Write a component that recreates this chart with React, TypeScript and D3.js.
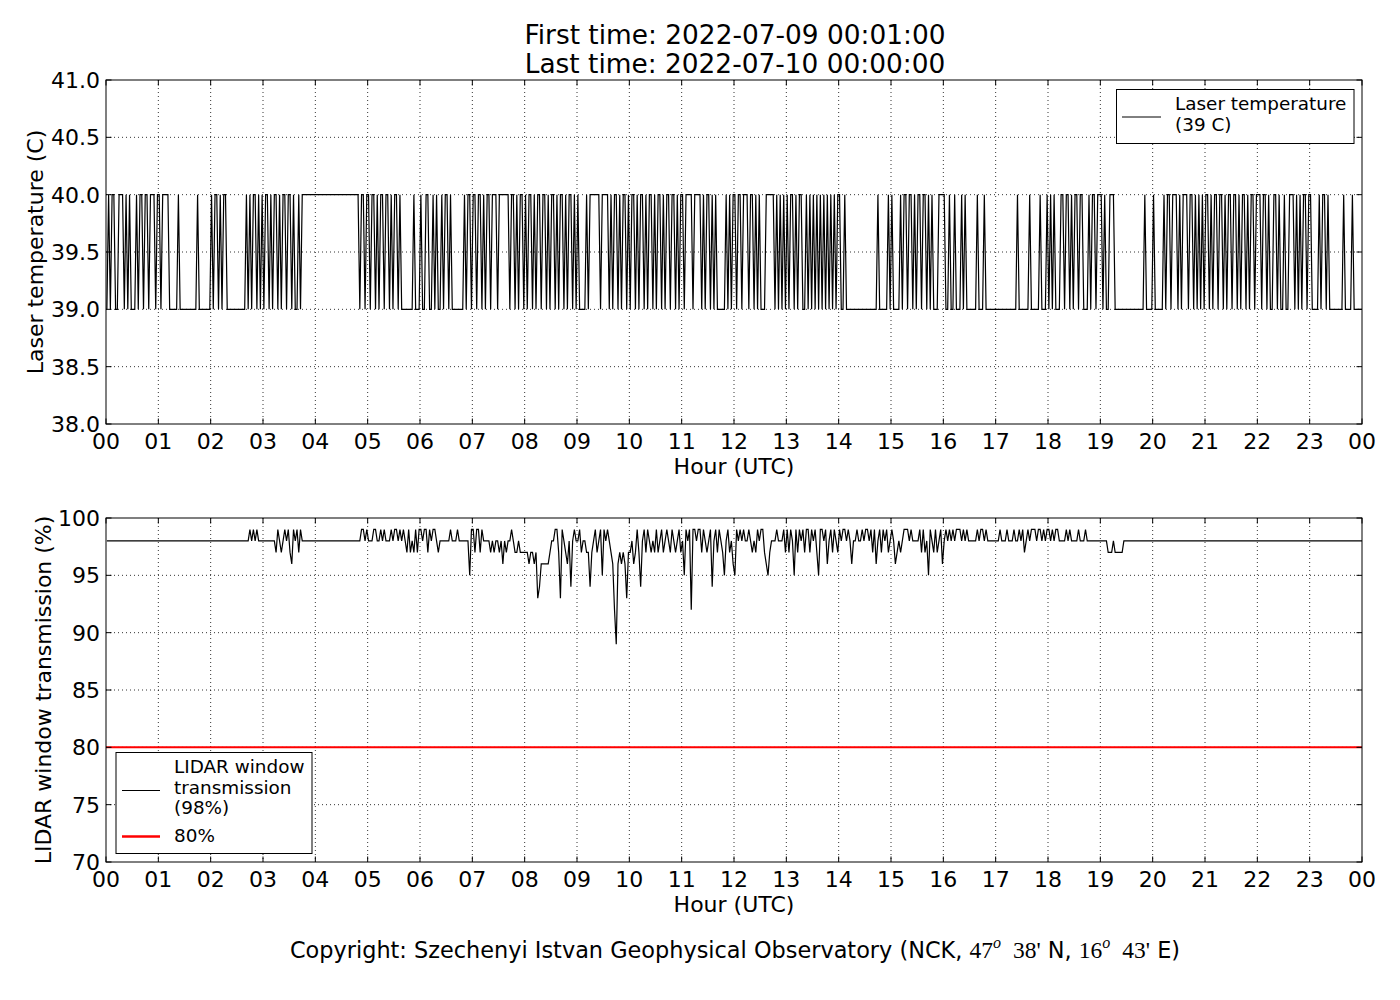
import React from "react";
import * as d3 from "d3";

const TITLE_FIRST = "First time: 2022-07-09 00:01:00";
const TITLE_LAST = "Last time: 2022-07-10 00:00:00";
const X_LABEL = "Hour (UTC)";
const TEMP_LABEL = "Laser temperature (C)";
const TRANS_LABEL = "LIDAR window transmission (%)";
const TEMP_LEGEND = ["Laser temperature", "(39 C)"];
const TRANS_LEGEND = ["LIDAR window", "transmission", "(98%)"];
const THRESHOLD_LEGEND = "80%";

const HOUR_TICKS = [0, 1, 2, 3, 4, 5, 6, 7, 8, 9, 10, 11, 12, 13, 14, 15, 16, 17, 18, 19, 20, 21, 22, 23, 24];
const HOUR_LABELS = ["00", "01", "02", "03", "04", "05", "06", "07", "08", "09", "10", "11", "12", "13", "14", "15", "16", "17", "18", "19", "20", "21", "22", "23", "00"];
const TEMP_TICKS = [38.0, 38.5, 39.0, 39.5, 40.0, 40.5, 41.0];
const TRANS_TICKS = [70, 75, 80, 85, 90, 95, 100];
const THRESHOLD = 80;

// Laser temperature, one row per hour, one character per 2-minute sample: '0' = 39 C, '1' = 40 C
const TEMP_LEVELS: Record<string, number> = { "0": 39, "1": 40 };
const TEMP_ROWS = [
  "010110011101010001011011011101",
  "101111000001000000000010000000",
  "101101011000000000001010110101",
  "011010110101101101001011111111",
  "111111111111111111111111101101",
  "101101011011010110100000001000",
  "100110010100101101000000010110",
  "110110101101110111111011010110",
  "101101011011010110101101011010",
  "100001011111101111010110101101",
  "011010110101101011010110110101",
  "101111011110101101010000010101",
  "101101110110101000111110101010",
  "101101011001010101010101010101",
  "100100000000000000000010000010",
  "100001011011010110110101000111",
  "100100100010100000010001000000",
  "000000000000100000010000010001",
  "010100011011010110110001011011",
  "101001110000000000000000010000",
  "100000101101110101110110101010",
  "110101101101011011010110101101",
  "110110100110100100111010101101",
  "100001011010000000010000100000",
];
const TEMP_END = 39;

// LIDAR window transmission (%), one row per hour, one character per 2-minute sample
const TRANS_LEVELS: Record<string, number> = {
  x: 89, "0": 90, "1": 91, "2": 92, "3": 93, "4": 94, "5": 95, "6": 96, "7": 97, "8": 98, "9": 99,
};
const TRANS_ROWS = [
  "888888888888888888888888888888",
  "888888888888888888888888888888",
  "888888888888888888888898989888",
  "888888879878989769897988888888",
  "888888888888888888888888889989",
  "888998898988898998989879787979",
  "989979899878888889888988888859",
  "979979888878788786878898778777",
  "776776734666667889973987684898",
  "8978877478978959898762x6767637",
  "786797489798787978978987987897",
  "859892998997987894897987589786",
  "598989889878798997657888988897",
  "979859798979979897599896897987",
  "989989868898898998979689798978",
  "986787899989888897978598797896",
  "898989899989898888898998988888",
  "889888988898898978989998998989",
  "989899888898988889888988888888",
  "888877787777788888888888888888",
  "888888888888888888888888888888",
  "888888888888888888888888888888",
  "888888888888888888888888888888",
  "888888888888888888888888888888",
];
const TRANS_END = 98;

type Pt = [number, number];

function decode(rows: string[], levels: Record<string, number>, end: number): Pt[] {
  const pts: Pt[] = [];
  rows.forEach((row, h) => {
    for (let i = 0; i < row.length; i++) {
      pts.push([h + (i + 0.5) / row.length, levels[row[i]]]);
    }
  });
  pts.push([24, end]);
  return pts;
}

const FONT = "DejaVu Sans, Verdana, sans-serif";
const L = 106;
const R = 1362;
const TICK = 5.5;

interface PanelProps {
  id: string;
  top: number;
  bottom: number;
  domain: [number, number];
  ticks: number[];
  fmt: (v: number) => string;
  ylabel: string;
  ylabelX: number;
  data: Pt[];
  extra?: (x: d3.ScaleLinear<number, number>, y: d3.ScaleLinear<number, number>) => React.ReactNode;
}

function Panel({ id, top, bottom, domain, ticks, fmt, ylabel, ylabelX, data, extra }: PanelProps) {
  const x = d3.scaleLinear().domain([0, 24]).range([L, R]);
  const y = d3.scaleLinear().domain(domain).range([bottom, top]);
  const line = d3.line<Pt>().x((d) => x(d[0])).y((d) => y(d[1]));
  const grid = { stroke: "#000", strokeWidth: 0.8, strokeDasharray: "1,3" };
  return (
    <g>
      <defs>
        <clipPath id={id}>
          <rect x={L} y={top} width={R - L} height={bottom - top} />
        </clipPath>
      </defs>
      {HOUR_TICKS.slice(1, -1).map((h) => (
        <line key={"gx" + h} x1={x(h)} x2={x(h)} y1={top} y2={bottom} {...grid} />
      ))}
      {ticks.slice(1, -1).map((t) => (
        <line key={"gy" + t} x1={L} x2={R} y1={y(t)} y2={y(t)} {...grid} />
      ))}
      <g clipPath={`url(#${id})`}>
        <path d={line(data) || ""} fill="none" stroke="#000" strokeWidth={1.2} />
        {extra ? extra(x, y) : null}
      </g>
      <rect x={L} y={top} width={R - L} height={bottom - top} fill="none" stroke="#000" strokeWidth={1} />
      {HOUR_TICKS.map((h) => (
        <g key={"tx" + h}>
          <line x1={x(h)} x2={x(h)} y1={bottom} y2={bottom - TICK} stroke="#000" />
          <line x1={x(h)} x2={x(h)} y1={top} y2={top + TICK} stroke="#000" />
        </g>
      ))}
      {ticks.map((t) => (
        <g key={"ty" + t}>
          <line x1={L} x2={L + TICK} y1={y(t)} y2={y(t)} stroke="#000" />
          <line x1={R} x2={R - TICK} y1={y(t)} y2={y(t)} stroke="#000" />
          <text x={L - 6} y={y(t)} dy="0.36em" textAnchor="end" fontSize={22} fontFamily={FONT}>
            {fmt(t)}
          </text>
        </g>
      ))}
      {HOUR_TICKS.map((h, i) => (
        <text key={"lx" + h} x={x(h)} y={bottom + 25} textAnchor="middle" fontSize={22} fontFamily={FONT}>
          {HOUR_LABELS[i]}
        </text>
      ))}
      <text x={(L + R) / 2} y={bottom + 50} textAnchor="middle" fontSize={22} fontFamily={FONT}>
        {X_LABEL}
      </text>
      <text
        transform={`translate(${ylabelX},${(top + bottom) / 2}) rotate(-90)`}
        textAnchor="middle"
        fontSize={22}
        fontFamily={FONT}
      >
        {ylabel}
      </text>
    </g>
  );
}

export default function App() {
  const tempData = decode(TEMP_ROWS, TEMP_LEVELS, TEMP_END);
  const transData = decode(TRANS_ROWS, TRANS_LEVELS, TRANS_END);
  const MATH = "Liberation Serif, DejaVu Serif, serif";
  return (
    <div style={{ position: "absolute", left: 0, top: 0 }}>
      <svg width={1400} height={1000} viewBox="0 0 1400 1000" style={{ display: "block", background: "#fff" }}>
        <rect x={0} y={0} width={1400} height={1000} fill="#fff" />
        <text x={735} y={44} textAnchor="middle" fontSize={26.4} fontFamily={FONT}>
          {TITLE_FIRST}
        </text>
        <text x={735} y={73} textAnchor="middle" fontSize={26.4} fontFamily={FONT}>
          {TITLE_LAST}
        </text>

        <Panel
          id="clipTop"
          top={80}
          bottom={424}
          domain={[38, 41]}
          ticks={TEMP_TICKS}
          fmt={(v) => v.toFixed(1)}
          ylabel={TEMP_LABEL}
          ylabelX={43}
          data={tempData}
        />
        <g>
          <rect x={1116.5} y={89.5} width={237.5} height={54} fill="#fff" stroke="#000" strokeWidth={1} />
          <line x1={1122} x2={1161} y1={117} y2={117} stroke="#000" strokeWidth={1} />
          <text x={1175} y={110} fontSize={18.4} fontFamily={FONT}>
            {TEMP_LEGEND[0]}
          </text>
          <text x={1175} y={131} fontSize={18.4} fontFamily={FONT}>
            {TEMP_LEGEND[1]}
          </text>
        </g>

        <Panel
          id="clipBottom"
          top={518}
          bottom={862}
          domain={[70, 100]}
          ticks={TRANS_TICKS}
          fmt={(v) => String(v)}
          ylabel={TRANS_LABEL}
          ylabelX={51}
          data={transData}
          extra={(x, y) => (
            <line x1={x(0)} x2={x(24)} y1={y(THRESHOLD)} y2={y(THRESHOLD)} stroke="#ff0000" strokeWidth={2} />
          )}
        />
        <g>
          <rect x={116} y={752.5} width={196} height={101} fill="#fff" stroke="#000" strokeWidth={1} />
          <line x1={122} x2={160} y1={790.5} y2={790.5} stroke="#000" strokeWidth={1} />
          <text x={174} y={773} fontSize={18.4} fontFamily={FONT}>
            {TRANS_LEGEND[0]}
          </text>
          <text x={174} y={794} fontSize={18.4} fontFamily={FONT}>
            {TRANS_LEGEND[1]}
          </text>
          <text x={174} y={814} fontSize={18.4} fontFamily={FONT}>
            {TRANS_LEGEND[2]}
          </text>
          <line x1={122} x2={160} y1={836.5} y2={836.5} stroke="#ff0000" strokeWidth={2.7} />
          <text x={174} y={842} fontSize={18.4} fontFamily={FONT}>
            {THRESHOLD_LEGEND}
          </text>
        </g>

        <text x={735} y={958} textAnchor="middle" fontSize={22.4} fontFamily={FONT}>
          <tspan>Copyright: Szechenyi Istvan Geophysical Observatory (NCK, </tspan>
          <tspan fontFamily={MATH} fontSize={23.5}>47</tspan>
          <tspan fontFamily={MATH} fontStyle="italic" fontSize={16} dy={-10}>o</tspan>
          <tspan fontFamily={MATH} fontSize={23.5} dy={10} dx={12}>38'</tspan>
          <tspan> N, </tspan>
          <tspan fontFamily={MATH} fontSize={23.5}>16</tspan>
          <tspan fontFamily={MATH} fontStyle="italic" fontSize={16} dy={-10}>o</tspan>
          <tspan fontFamily={MATH} fontSize={23.5} dy={10} dx={12}>43'</tspan>
          <tspan> E)</tspan>
        </text>
      </svg>
    </div>
  );
}
